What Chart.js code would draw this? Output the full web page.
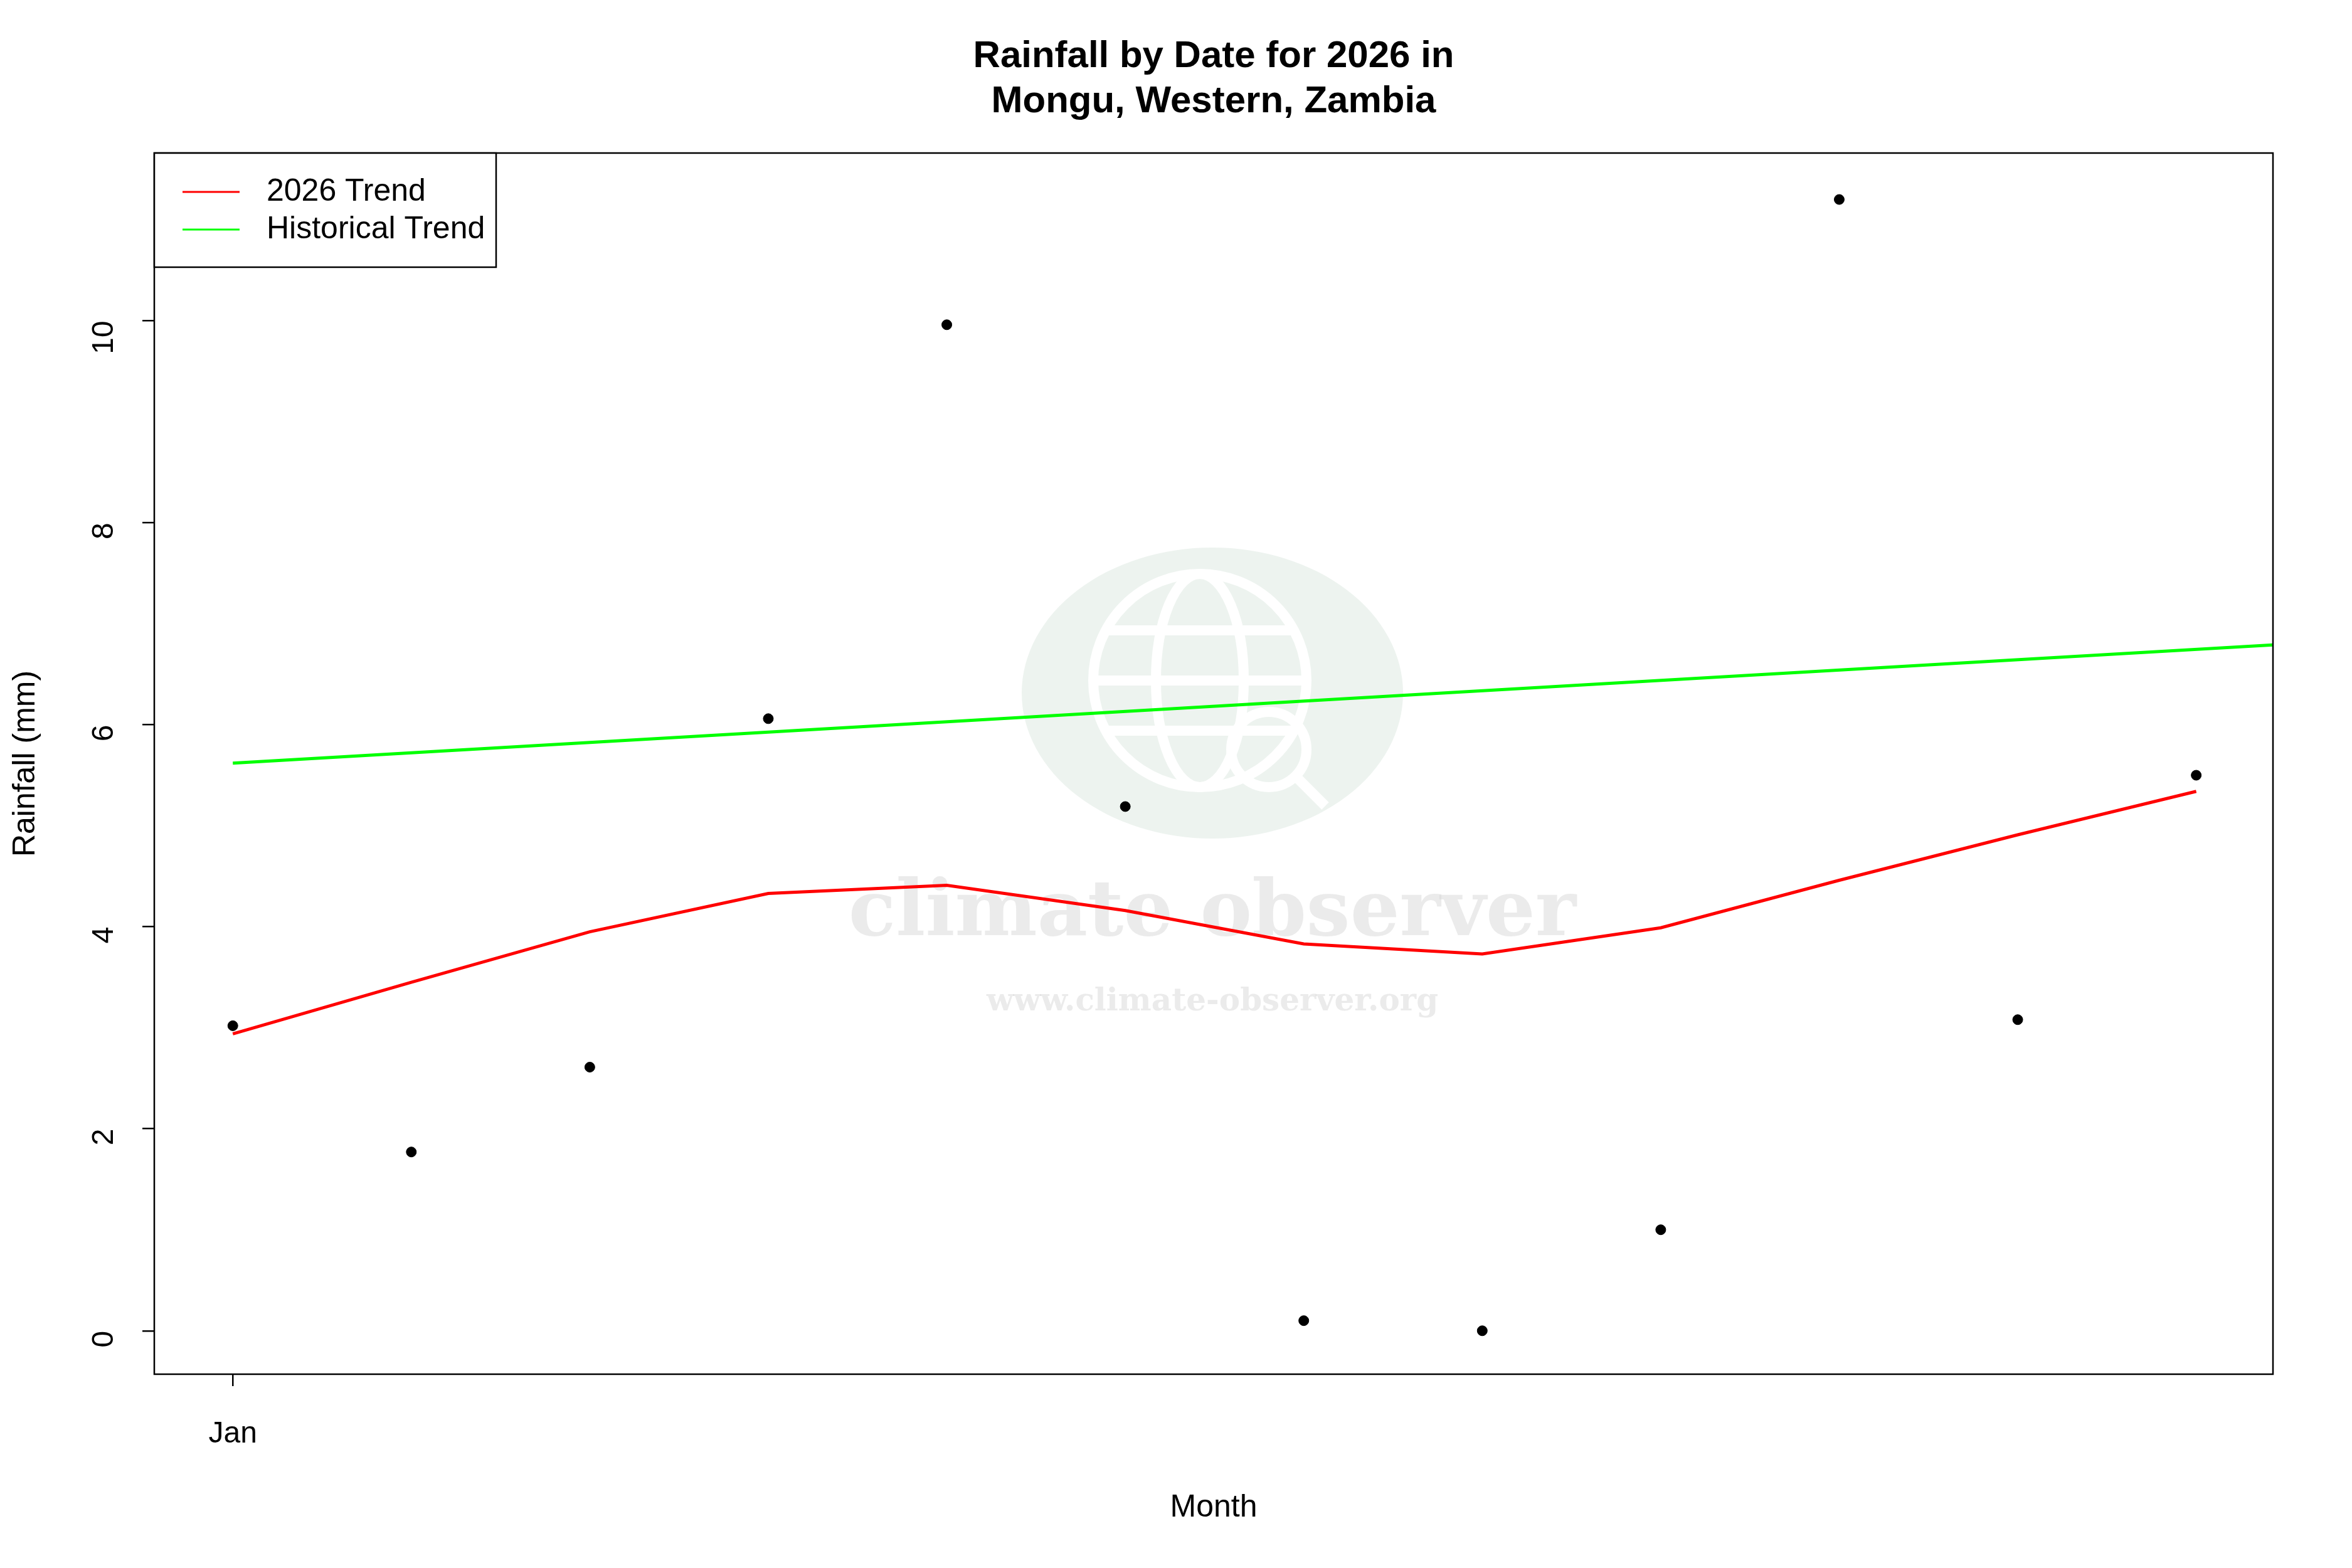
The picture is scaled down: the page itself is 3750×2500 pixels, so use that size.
<!DOCTYPE html>
<html>
<head>
<meta charset="utf-8">
<script src="https://cdn.jsdelivr.net/npm/chart.js@4/dist/chart.umd.min.js"></script>
<style>body{margin:0;background:#fff}canvas{display:block}</style>
</head>
<body>
<canvas id="c" width="3750" height="2500"></canvas>
<script>
// month index 0 = Jan
const monthIdx = [0, 1, 2, 3, 4, 5, 6, 7, 8, 9, 10, 11];
const rainfall = [3.02, 1.77, 2.61, 6.06, 9.96, 5.19, 0.10, 0.00, 1.00, 11.20, 3.08, 5.50];
const trend2026 = [2.94, 3.45, 3.95, 4.33, 4.41, 4.16, 3.83, 3.73, 3.99, 4.46, 4.91, 5.34];
const histX = [0, 11.43];
const histTrend = [5.62, 6.79];
const xTicks = {0: 'Jan'};

const font = 'Liberation Sans, Arial, sans-serif';
const L = 246, R = 3624, T = 244, B = 2191;

const frame = {
  id: 'frame',
  afterDraw(chart) {
    const ctx = chart.ctx, a = chart.chartArea;
    const cx = (a.left + a.right) / 2;
    ctx.save();
    ctx.strokeStyle = '#000'; ctx.lineWidth = 2.5;
    ctx.strokeRect(a.left, a.top, a.right - a.left, a.bottom - a.top);
    ctx.fillStyle = '#000'; ctx.textAlign = 'center'; ctx.textBaseline = 'middle';
    ctx.font = 'bold 60px ' + font;
    ctx.fillText('Rainfall by Date for 2026 in', cx, 90);
    ctx.fillText('Mongu, Western, Zambia', cx, 162);
    ctx.font = '50px ' + font;
    ctx.fillText('Month', cx, 2404);
    ctx.save();
    ctx.translate(41, (a.top + a.bottom) / 2);
    ctx.rotate(-Math.PI / 2);
    ctx.fillText('Rainfall (mm)', 0, 0);
    ctx.restore();
    // legend
    const lx = a.left, ly = a.top, lw = 545, lh = 182;
    ctx.fillStyle = '#fff'; ctx.fillRect(lx, ly, lw, lh);
    ctx.strokeRect(lx, ly, lw, lh);
    ctx.textAlign = 'left';
    [['2026 Trend', '#ff0000', ly + 62], ['Historical Trend', '#00ff00', ly + 122]].forEach(([t, c, y]) => {
      ctx.strokeStyle = c; ctx.lineWidth = 3;
      ctx.beginPath(); ctx.moveTo(lx + 45, y); ctx.lineTo(lx + 136, y); ctx.stroke();
      ctx.fillStyle = '#000'; ctx.fillText(t, lx + 179, y);
    });
    ctx.restore();
  }
};

const watermark = {
  id: 'watermark',
  beforeDatasetsDraw(chart) {
    const ctx = chart.ctx;
    const cx = 1933, cy = 1105;
    ctx.save();
    ctx.fillStyle = 'rgba(225,235,228,0.6)';
    ctx.beginPath(); ctx.ellipse(cx, cy, 304, 232, 0, 0, Math.PI * 2); ctx.fill();
    ctx.strokeStyle = '#fff'; ctx.lineWidth = 16;
    ctx.beginPath(); ctx.arc(cx - 20, cy - 20, 170, 0, Math.PI * 2); ctx.stroke();
    ctx.beginPath(); ctx.ellipse(cx - 20, cy - 20, 70, 170, 0, 0, Math.PI * 2); ctx.stroke();
    ctx.beginPath(); ctx.moveTo(cx - 190, cy - 20); ctx.lineTo(cx + 150, cy - 20); ctx.stroke();
    ctx.beginPath(); ctx.moveTo(cx - 165, cy - 100); ctx.lineTo(cx + 125, cy - 100); ctx.stroke();
    ctx.beginPath(); ctx.moveTo(cx - 165, cy + 60); ctx.lineTo(cx + 125, cy + 60); ctx.stroke();
    ctx.beginPath(); ctx.arc(cx + 90, cy + 90, 60, 0, Math.PI * 2); ctx.stroke();
    ctx.beginPath(); ctx.moveTo(cx + 135, cy + 135); ctx.lineTo(cx + 180, cy + 180); ctx.stroke();
    ctx.fillStyle = 'rgba(215,215,215,0.5)';
    ctx.textAlign = 'center'; ctx.textBaseline = 'middle';
    ctx.font = 'bold 124px DejaVu Serif, serif';
    ctx.fillText('climate observer', cx, 1459);
    ctx.font = 'bold 50px DejaVu Serif, serif';
    ctx.fillText('www.climate-observer.org', cx, 1598);
    ctx.restore();
  }
};

new Chart(document.getElementById('c'), {
  data: {
    datasets: [
      {type: 'scatter', data: monthIdx.map((x, i) => ({x, y: rainfall[i]})),
       backgroundColor: '#000', borderColor: '#000', pointRadius: 8, order: 3},
      {type: 'line', data: monthIdx.map((x, i) => ({x, y: trend2026[i]})),
       borderColor: '#ff0000', borderWidth: 5, pointRadius: 0, tension: 0, order: 2},
      {type: 'line', data: histX.map((x, i) => ({x, y: histTrend[i]})),
       borderColor: '#00ff00', borderWidth: 5, pointRadius: 0, tension: 0, order: 1}
    ]
  },
  options: {
    responsive: false, devicePixelRatio: 1, animation: false,
    layout: {padding: {left: 0, right: 3750 - R, top: T, bottom: 0}},
    plugins: {legend: {display: false}, tooltip: {enabled: false}},
    scales: {
      x: {type: 'linear', min: -0.44, max: 11.43,
          afterFit: s => { s.height = 2500 - B; },
          afterBuildTicks: s => { s.ticks = [{value: 0}]; },
          border: {display: false},
          grid: {drawOnChartArea: false, tickLength: 19, color: '#000', lineWidth: 2.5},
          ticks: {padding: 48, color: '#000', font: {size: 48, family: font},
                  maxRotation: 0, callback: v => xTicks[v] || ''}},
      y: {min: -0.43, max: 11.66,
          afterFit: s => { s.width = L; },
          afterBuildTicks: s => { s.ticks = [0, 2, 4, 6, 8, 10].map(v => ({value: v})); },
          border: {display: false},
          grid: {drawOnChartArea: false, tickLength: 19, color: '#000', lineWidth: 2.5},
          ticks: {padding: 60, color: '#000', font: {size: 48, family: font},
                  minRotation: 90, maxRotation: 90}}
    }
  },
  plugins: [watermark, frame]
});
</script>
</body>
</html>
